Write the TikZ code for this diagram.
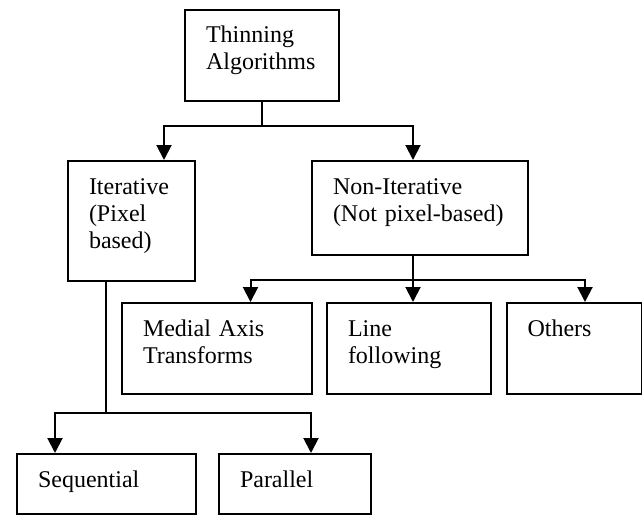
\documentclass[tikz,border=0pt]{standalone}
\usepackage{fontspec}
\setmainfont{Liberation Serif}
\usetikzlibrary{positioning,arrows.meta}

\begin{document}
\begin{tikzpicture}[x=0.5pt,y=-0.5pt,
    box/.style={draw, line width=1pt, anchor=north west, align=left,
        inner xsep=10.5pt, inner ysep=0pt, text height=16.5pt,
        font=\fontsize{12}{13.5}\selectfont},
    line/.style={line width=1pt},
    arr/.style={line width=1pt, -{Triangle[length=7.5pt,width=7.5pt]}}]
    \useasboundingbox (0,0) rectangle (642,514);

    % Boxes
    \node[box, text width=56pt, text depth=29pt] (thin) at (184,8.5) {Thinning\\Algorithms};
    \node[box, text width=42.5pt, text depth=43.5pt] (iter) at (67,160) {Iterative\\(Pixel\\based)};
    \node[box, text width=87pt, text depth=30.5pt] (noniter) at (311,160) {Non-Iterative\\(Not pixel-based)};
    \node[box, text width=74pt, text depth=29pt] (medial) at (121,302) {Medial Axis\\Transforms};
    \node[box, text width=61pt, text depth=29pt] (linef) at (326,302) {Line\\following};
    \node[box, text width=46.75pt, text depth=29pt] (others) at (505.5,302) {Others};
    \node[box, text width=68.25pt, text depth=13.5pt] (seq) at (16,453) {Sequential};
    \node[box, text width=55pt, text depth=13.5pt] (par) at (218,453) {Parallel};

    % Connectors
    \coordinate (tbus) at (thin.south |- 0,126);
    \draw[line] (thin.south) -- (tbus);
    \draw[arr] (tbus) -| (164,0 |- iter.north);
    \draw[arr] (tbus) -| (413,0 |- noniter.north);

    \coordinate (nbus) at (413,280);
    \draw[line] (noniter.south -| nbus) -- (nbus);
    \draw[arr] (nbus) -| (250.5,0 |- medial.north);
    \draw[arr] (nbus) -- (nbus |- linef.north);
    \draw[arr] (nbus) -| (585,0 |- others.north);

    \coordinate (ibus) at (105.6,413);
    \draw[line] (ibus |- iter.south) -- (ibus);
    \draw[arr] (ibus) -| (55,0 |- seq.north);
    \draw[arr] (ibus) -| (311,0 |- par.north);
\end{tikzpicture}
\end{document}
